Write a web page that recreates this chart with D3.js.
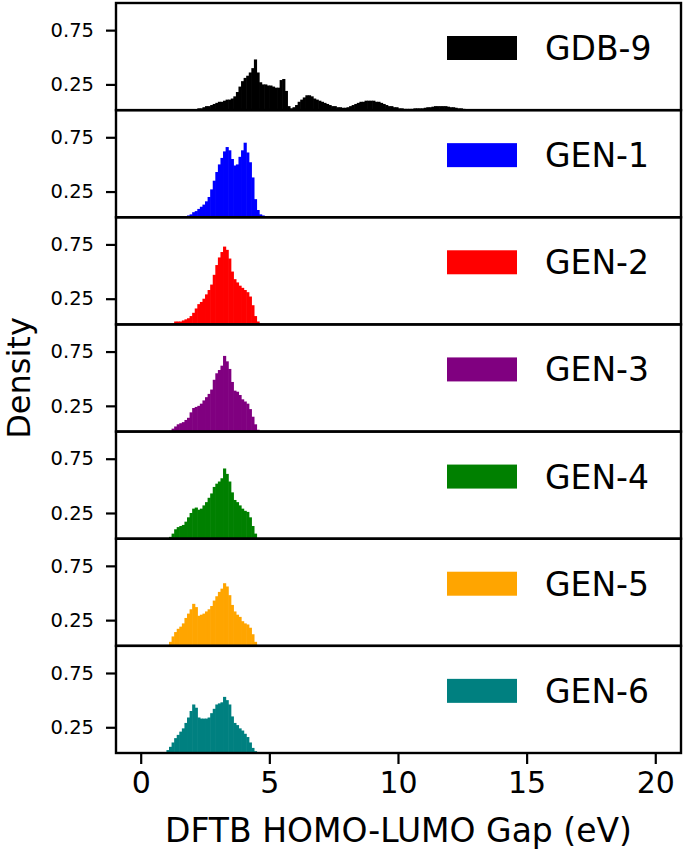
<!DOCTYPE html>
<html>
<head>
<meta charset="utf-8">
<script src="https://cdn.jsdelivr.net/npm/d3@7"></script>
<style>
html,body{margin:0;padding:0;background:#fff;}
svg{display:block;font-family:"DejaVu Sans",sans-serif;}
</style>
</head>
<body>
<svg id="chart" width="685" height="859"></svg>
<script>
// ---- data ----
const seriesNames = ["GDB-9", "GEN-1", "GEN-2", "GEN-3", "GEN-4", "GEN-5", "GEN-6"];
const seriesColors = ["#000000", "#0000ff", "#ff0000", "#800080", "#008000", "#ffa500", "#008080"];
const binWidth = 0.1; // eV
const binStarts = [2.1, 1.7, 1.2, 1.1, 1.0, 1.0, 0.9];

const gdb9 = [0.02,0.03,0.03,0.04,0.05,0.05,0.06,0.07,0.08,0.09,
  0.09,0.10,0.11,0.11,0.12,0.14,0.18,0.23,0.28,0.31,
  0.33,0.36,0.40,0.48,0.36,0.27,0.25,0.25,0.24,0.24,
  0.23,0.22,0.22,0.29,0.30,0.19,0.05,0.03,0.04,0.06,
  0.09,0.11,0.13,0.15,0.15,0.14,0.12,0.11,0.10,0.09,
  0.08,0.07,0.06,0.05,0.05,0.04,0.04,0.035,0.035,0.04,
  0.05,0.06,0.07,0.08,0.09,0.09,0.10,0.10,0.10,0.10,
  0.09,0.09,0.08,0.07,0.06,0.05,0.05,0.04,0.04,0.03,
  0.03,0.025,0.025,0.025,0.025,0.03,0.03,0.03,0.03,0.035,
  0.04,0.04,0.045,0.05,0.05,0.05,0.05,0.05,0.045,0.04,
  0.04,0.035,0.03,0.03,0.025,0.02,0.02,0.015];
const gen1 = [0.02,0.03,0.04,0.06,0.07,0.09,0.11,0.13,0.16,0.20,
  0.27,0.35,0.43,0.50,0.56,0.62,0.66,0.63,0.55,0.49,
  0.50,0.57,0.63,0.70,0.61,0.52,0.38,0.18,0.08,0.04,
  0.03,0.02,0.015];
const gen2 = [0.02,0.04,0.04,0.04,0.05,0.06,0.07,0.09,0.12,0.16,
  0.20,0.22,0.25,0.29,0.33,0.38,0.47,0.56,0.63,0.68,
  0.73,0.70,0.62,0.50,0.43,0.40,0.37,0.35,0.33,0.31,
  0.27,0.19,0.09,0.04,0.02];
const gen3 = [0.02,0.04,0.06,0.08,0.09,0.10,0.12,0.14,0.19,0.23,
  0.24,0.25,0.27,0.30,0.33,0.36,0.40,0.49,0.55,0.58,
  0.62,0.71,0.66,0.59,0.47,0.39,0.38,0.35,0.31,0.29,
  0.27,0.22,0.15,0.08,0.03,0.015];
const gen4 = [0.015,0.03,0.06,0.10,0.12,0.13,0.14,0.17,0.21,0.25,
  0.29,0.30,0.28,0.29,0.32,0.35,0.39,0.43,0.49,0.52,
  0.54,0.57,0.66,0.61,0.54,0.44,0.37,0.35,0.32,0.29,
  0.27,0.26,0.21,0.13,0.06,0.02];
const gen5 = [0.02,0.05,0.10,0.14,0.17,0.19,0.22,0.27,0.31,0.35,
  0.40,0.37,0.29,0.30,0.31,0.33,0.35,0.38,0.43,0.47,
  0.51,0.54,0.59,0.56,0.48,0.39,0.33,0.30,0.28,0.24,
  0.22,0.21,0.18,0.12,0.05,0.02];
const gen6 = [0.015,0.04,0.07,0.11,0.15,0.18,0.21,0.24,0.29,0.34,
  0.40,0.46,0.43,0.34,0.33,0.33,0.33,0.34,0.38,0.42,
  0.46,0.47,0.48,0.53,0.50,0.46,0.35,0.29,0.27,0.24,
  0.22,0.19,0.16,0.11,0.06,0.03,0.015];
const seriesValues = [gdb9, gen1, gen2, gen3, gen4, gen5, gen6];

const xTicks = [0, 5, 10, 15, 20];
const yTicks = [0.25, 0.75];
const xLabel = "DFTB HOMO-LUMO Gap (eV)";
const yLabel = "Density";

// ---- layout ----
const svg = d3.select("#chart");
const mLeft = 116, mRight = 681, mTop = 3, mBottom = 753;
const nP = seriesNames.length;
const ph = (mBottom - mTop) / nP;

const x = d3.scaleLinear().domain([-0.96, 21.0]).range([mLeft, mRight]);

seriesNames.forEach((name, i) => {
  const y0 = mTop + i * ph;
  const y = d3.scaleLinear().domain([0.013, 1.0]).range([y0 + ph, y0]);
  const g = svg.append("g");
  const clipId = "clip" + i;
  svg.append("clipPath").attr("id", clipId)
    .append("rect").attr("x", mLeft).attr("y", y0).attr("width", mRight - mLeft).attr("height", ph);

  const bins = seriesValues[i].map((v, k) => ({x0: binStarts[i] + k * binWidth, v: v}));
  g.append("g").attr("clip-path", `url(#${clipId})`)
    .selectAll("rect").data(bins).join("rect")
    .attr("x", d => x(d.x0))
    .attr("width", d => x(d.x0 + binWidth) - x(d.x0) + 0.6)
    .attr("y", d => y(d.v))
    .attr("height", d => Math.max(0, y(0) - y(d.v)))
    .attr("fill", seriesColors[i]);

  // y axis
  const yAxis = d3.axisLeft(y).tickValues(yTicks).tickSize(10).tickPadding(12)
    .tickFormat(d3.format(".2f"));
  const ya = g.append("g").attr("transform", `translate(${mLeft},0)`).call(yAxis);
  ya.select(".domain").remove();
  ya.selectAll(".tick line").attr("stroke", "#000").attr("stroke-width", 2.2);
  ya.selectAll(".tick text").attr("font-size", 19.5).attr("fill", "#000")
    .attr("font-family", "DejaVu Sans");

  // frame
  g.append("rect").attr("x", mLeft).attr("y", y0).attr("width", mRight - mLeft).attr("height", ph)
    .attr("fill", "none").attr("stroke", "#000").attr("stroke-width", 2.4);

  // legend
  g.append("rect").attr("x", 447).attr("y", y0 + 33).attr("width", 70).attr("height", 24)
    .attr("fill", seriesColors[i]);
  g.append("text").attr("x", 545).attr("y", y0 + 57).attr("font-size", 33)
    .attr("fill", "#000").text(name);
});

// x axis
const xAxis = d3.axisBottom(x).tickValues(xTicks).tickSize(11).tickPadding(8);
const xa = svg.append("g").attr("transform", `translate(0,${mBottom})`).call(xAxis);
xa.select(".domain").remove();
xa.selectAll(".tick line").attr("stroke", "#000").attr("stroke-width", 2.2);
xa.selectAll(".tick text").attr("font-size", 30).attr("fill", "#000")
  .attr("font-family", "DejaVu Sans");

svg.append("text").attr("x", (mLeft + mRight) / 2).attr("y", 842)
  .attr("text-anchor", "middle").attr("font-size", 33).attr("fill", "#000").text(xLabel);
svg.append("text").attr("transform", `translate(30,${(mTop + mBottom) / 2}) rotate(-90)`)
  .attr("text-anchor", "middle").attr("font-size", 32).attr("fill", "#000").text(yLabel);
</script>
</body>
</html>
